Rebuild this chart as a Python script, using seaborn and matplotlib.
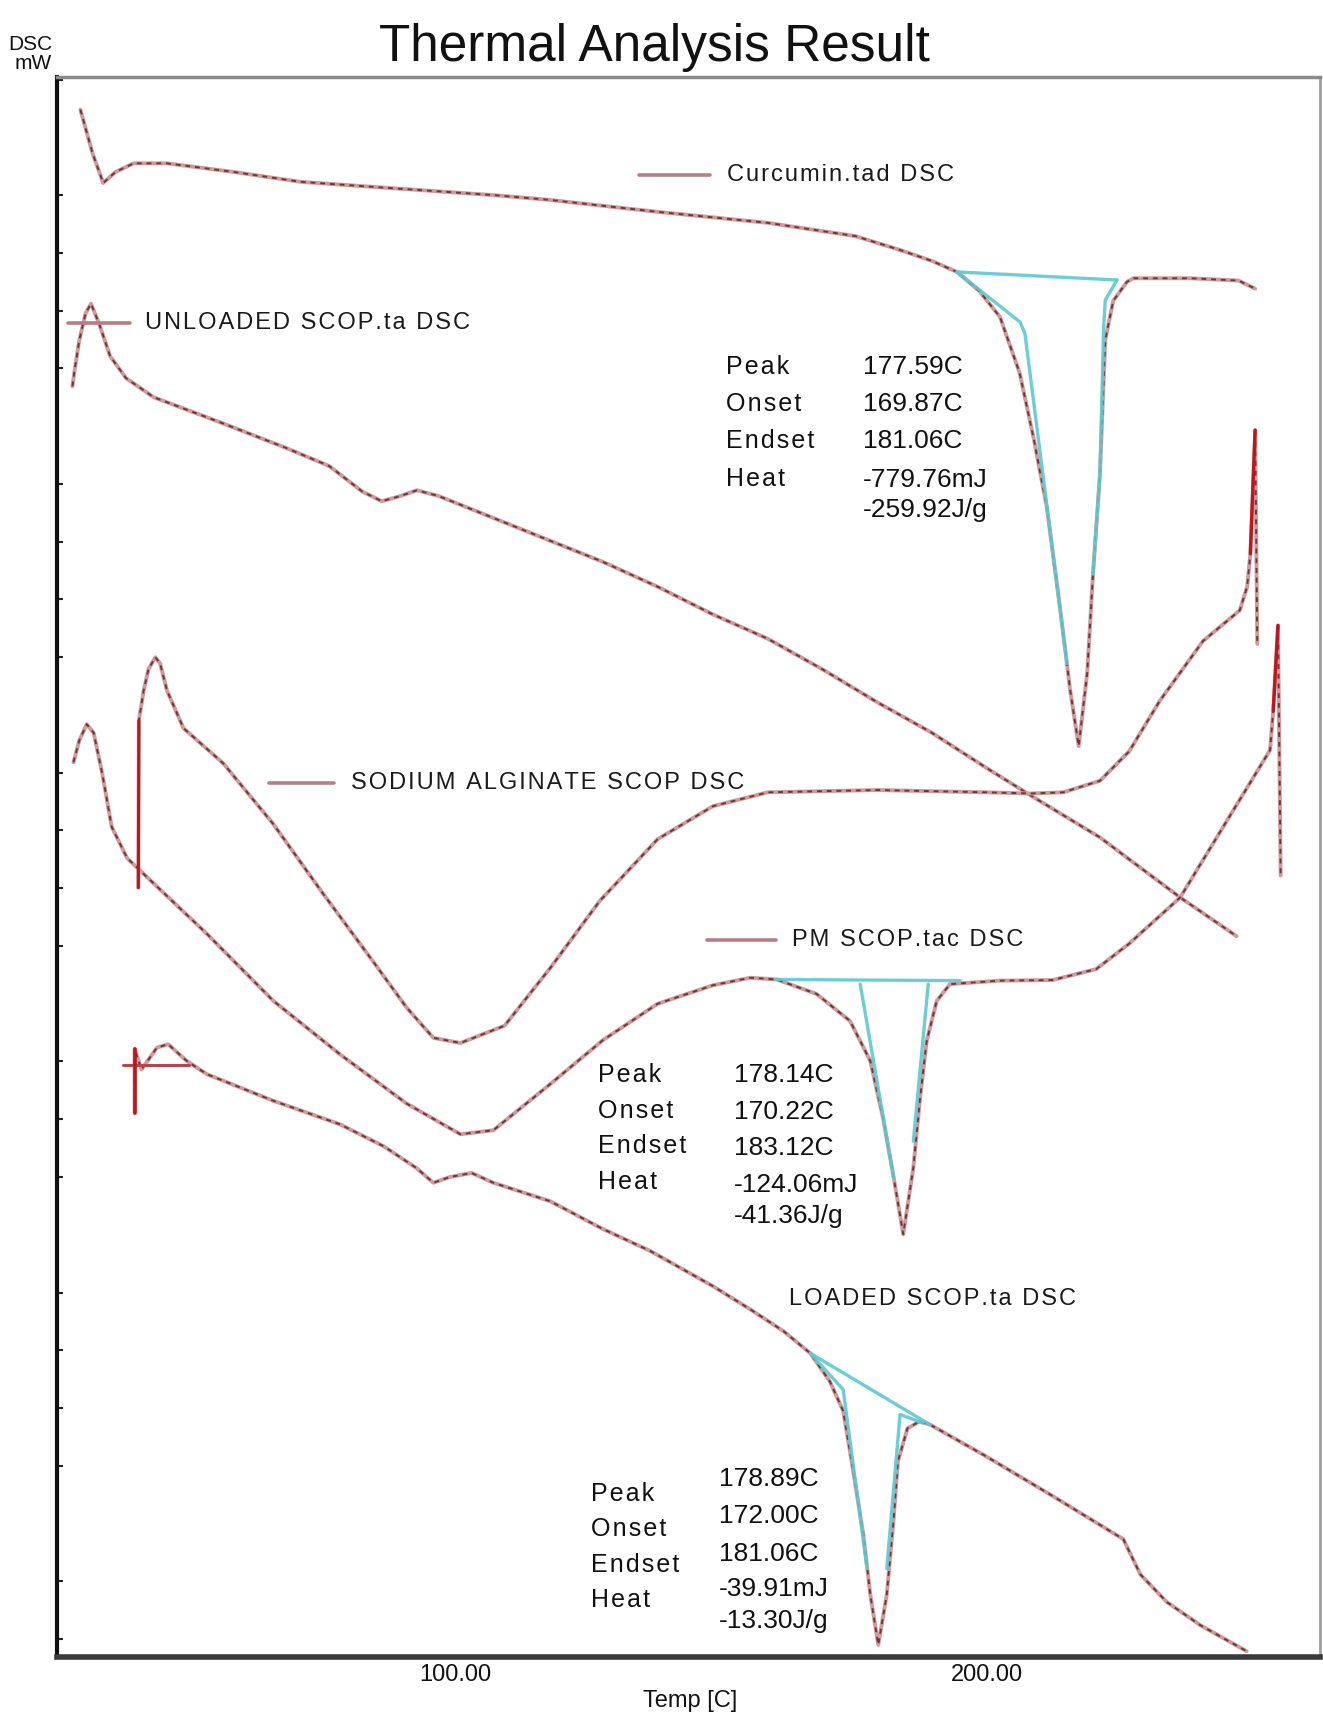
import matplotlib
matplotlib.use("Agg")
import matplotlib.pyplot as plt
import seaborn as sns

# -----------------------
# DSC curves: temperature [C] and heat flow [mW, arbitrary offset]
# -----------------------
curcumin_t = [29.5, 31.8, 33.8, 36.1, 39.5, 45.8, 58.4, 70.9, 89.7, 107.2, 117.5, 138.1, 158.8,
              175.3, 183.7, 189.7, 194.4, 198.6, 202.5, 206.2, 208.9, 211.3, 213.8, 215.7, 217.3,
              218.9, 220.0, 221.3, 222.3, 223.8, 226.4, 227.6, 238.4, 247.4, 250.5]
curcumin_mw = [24.48, 23.72, 23.21, 23.40, 23.55, 23.55, 23.40, 23.23, 23.11, 23.00, 22.92, 22.71, 22.52,
               22.29, 22.05, 21.86, 21.67, 21.34, 20.89, 19.92, 18.76, 17.60, 15.85, 14.43, 13.46,
               14.72, 16.44, 18.17, 20.49, 21.17, 21.50, 21.56, 21.56, 21.52, 21.38]

unloaded_t = [28.0, 28.5, 29.3, 30.5, 31.5, 33.0, 35.1, 38.1, 43.3, 55.7, 68.0, 76.3, 82.5, 86.2,
              89.7, 92.8, 96.9, 107.2, 117.5, 127.8, 138.1, 148.5, 158.8, 169.1, 179.4, 189.7,
              200.0, 208.2, 221.3, 236.4, 247.0]
unloaded_mw = [19.69, 20.02, 20.49, 20.96, 21.12, 20.78, 20.21, 19.83, 19.50, 19.07, 18.63, 18.31, 17.87, 17.70,
               17.79, 17.89, 17.79, 17.41, 17.03, 16.65, 16.22, 15.74, 15.32, 14.79, 14.22, 13.69,
               13.08, 12.61, 11.88, 10.84, 10.17]

alginate_t = [40.4, 40.5, 41.4, 42.3, 43.6, 44.5, 45.8, 48.9, 56.4, 65.8, 75.2, 84.5, 90.9, 95.9,
              101.0, 109.3, 117.9, 127.2, 138.1, 148.5, 158.8, 179.4, 200.0, 208.2, 214.4, 221.3,
              226.8, 232.6, 240.7, 247.6, 249.0, 249.6, 250.5, 250.9]
alginate_mw = [11.01, 13.90, 14.42, 14.79, 15.00, 14.89, 14.42, 13.77, 13.16, 12.11, 10.90, 9.74, 8.93, 8.41,
               8.32, 8.62, 9.62, 10.78, 11.85, 12.42, 12.66, 12.70, 12.66, 12.64, 12.66, 12.86,
               13.37, 14.25, 15.28, 15.81, 16.22, 16.79, 18.93, 15.23]

pm_t = [28.2, 29.3, 30.7, 32.0, 33.6, 35.4, 38.3, 40.8, 53.3, 65.8, 78.4, 90.9, 101.0, 107.2,
        117.9, 127.8, 138.1, 148.5, 155.5, 160.5, 168.0, 174.3, 178.1, 180.5, 182.5, 184.3,
        186.2, 187.4, 188.7, 190.6, 193.1, 202.5, 212.4, 220.6, 226.8, 236.4, 245.2, 253.3,
        253.9, 254.8, 255.3]
pm_mw = [13.18, 13.56, 13.84, 13.69, 12.99, 12.06, 11.52, 11.30, 10.21, 9.05, 8.12, 7.27, 6.74, 6.81,
         7.61, 8.37, 9.00, 9.32, 9.45, 9.42, 9.17, 8.70, 8.01, 7.02, 5.99, 5.01,
         6.16, 7.31, 8.35, 9.05, 9.34, 9.40, 9.41, 9.60, 10.04, 10.84, 12.17, 13.39,
         14.07, 15.55, 11.22]

loaded_t = [39.7, 39.7, 41.0, 43.9, 46.0, 49.5, 53.3, 65.8, 78.4, 86.6, 92.8, 95.9, 99.0, 103.1,
            107.2, 117.9, 127.8, 136.7, 148.5, 155.5, 161.8, 166.8, 170.5, 173.0, 174.8, 176.8,
            178.1, 179.6, 181.2, 182.5, 183.3, 185.1, 187.4, 189.4, 199.4, 212.0, 225.7, 228.9,
            233.9, 240.2, 248.9]
loaded_mw = [7.11, 8.22, 7.86, 8.24, 8.30, 8.01, 7.78, 7.32, 6.91, 6.53, 6.15, 5.90, 6.00, 6.07,
             5.90, 5.58, 5.10, 4.72, 4.11, 3.71, 3.33, 2.95, 2.46, 1.95, 0.96, -0.20,
             -1.23, -2.10, -1.23, 0.09, 1.08, 1.65, 1.77, 1.71, 1.19, 0.50, -0.27, -0.88,
             -1.36, -1.76, -2.21]

# integration baselines / tangents (cyan)
curcumin_base_t = [194.4, 224.5]
curcumin_base_mw = [21.67, 21.53]
curcumin_left_t = [194.4, 206.3, 207.2, 215.1]
curcumin_left_mw = [21.67, 20.80, 20.60, 14.89]
curcumin_right_t = [224.5, 222.3, 222.0, 221.3, 220.0]
curcumin_right_mw = [21.53, 21.18, 20.71, 18.18, 16.44]

pm_base_t = [160.5, 195.0]
pm_base_mw = [9.42, 9.40]
pm_left_t = [176.2, 182.5]
pm_left_mw = [9.34, 5.99]
pm_right_t = [189.0, 186.2]
pm_right_mw = [9.34, 6.62]

loaded_base_t = [166.8, 189.4]
loaded_base_mw = [2.95, 1.71]
loaded_left_t = [166.8, 173.0, 177.5]
loaded_left_mw = [2.95, 2.32, -0.78]
loaded_right_t = [181.2, 183.7, 188.0]
loaded_right_mw = [-0.78, 1.89, 1.74]

# curve names
curve_names = ["Curcumin.tad DSC", "UNLOADED SCOP.ta DSC", "SODIUM ALGINATE SCOP DSC",
               "PM SCOP.tac DSC", "LOADED SCOP.ta DSC"]

# peak analysis results
result_labels = ["Peak", "Onset", "Endset", "Heat"]
curcumin_results = ["177.59C", "169.87C", "181.06C", "-779.76mJ", "-259.92J/g"]
pm_results = ["178.14C", "170.22C", "183.12C", "-124.06mJ", "-41.36J/g"]
loaded_results = ["178.89C", "172.00C", "181.06C", "-39.91mJ", "-13.30J/g"]

# axis ticks
x_ticks = [40, 60, 80, 100, 120, 140, 160, 180, 200, 220, 240]
x_tick_labels = ["", "", "", "100.00", "", "", "", "", "200.00", "", ""]
y_major = [0, 5, 9, 14, 19, 24]
y_minor = list(range(-2, 26))

# -----------------------
# Style
# -----------------------
sns.set_theme(style="white")
plt.rcParams["font.family"] = ["Liberation Sans", "DejaVu Sans"]

line_light = "#cf9a9c"
line_dark = "#5e2428"
seg_color = "#b58084"
spike_red = "#c0151c"
cyan = "#5cc9d1"


def spaced(s):
    return "\u200a".join(s)


fig = plt.figure(figsize=(13.23, 17.19), dpi=100)
ax = fig.add_axes([0.04308, 0.03607, 0.95465, 0.91931])


def draw_curve(t, mw):
    sns.lineplot(x=t, y=mw, sort=False, estimator=None, color=line_light, lw=2.8, ax=ax)
    ax.plot(t, mw, color=line_dark, lw=1.4, linestyle=(0, (2.5, 2.5)), alpha=0.85)


for t, mw in [(curcumin_t, curcumin_mw), (unloaded_t, unloaded_mw), (alginate_t, alginate_mw),
              (pm_t, pm_mw), (loaded_t, loaded_mw)]:
    draw_curve(t, mw)

# bright red spikes
ax.plot(alginate_t[:2], alginate_mw[:2], color=spike_red, lw=2.2)
ax.plot(alginate_t[-3:-1], alginate_mw[-3:-1], color=spike_red, lw=2.4)
ax.plot(pm_t[-3:-1], pm_mw[-3:-1], color=spike_red, lw=2.4)

for t, mw in [(curcumin_base_t, curcumin_base_mw), (curcumin_left_t, curcumin_left_mw),
              (curcumin_right_t, curcumin_right_mw), (pm_base_t, pm_base_mw),
              (pm_left_t, pm_left_mw), (pm_right_t, pm_right_mw),
              (loaded_base_t, loaded_base_mw), (loaded_left_t, loaded_left_mw),
              (loaded_right_t, loaded_right_mw)]:
    ax.plot(t, mw, color=cyan, lw=2.4, alpha=0.9)

# legend-like markers next to curves
ax.plot([134.6, 148.0], [23.34, 23.34], color=seg_color, lw=2.6)
ax.plot([27.2, 38.8], [20.78, 20.78], color=seg_color, lw=2.6)
ax.plot([65.0, 77.3], [12.82, 12.82], color=seg_color, lw=2.6)
ax.plot([147.4, 160.4], [10.10, 10.10], color=seg_color, lw=2.6)
ax.plot([37.6, 49.9], [7.94, 7.94], color="#b5474c", lw=2.2)
ax.plot(loaded_t[:2], loaded_mw[:2], color=spike_red, lw=2.6)

lab_kw = dict(fontsize=17, color="#1a1a1a", va="center", ha="left")
ax.text(151.1, 23.34, spaced(curve_names[0]), **lab_kw)
ax.text(41.6, 20.78, spaced(curve_names[1]), **lab_kw)
ax.text(80.4, 12.82, spaced(curve_names[2]), **lab_kw)
ax.text(163.3, 10.10, spaced(curve_names[3]), **lab_kw)
ax.text(162.9, 3.89, spaced(curve_names[4]), **lab_kw)

# result blocks
blocks = [
    (150.9, [20.02, 19.39, 18.74, 18.08], 176.7, [20.02, 19.39, 18.74, 18.06, 17.55], curcumin_results),
    (126.8, [7.76, 7.15, 6.53, 5.92], 152.4, [7.76, 7.13, 6.51, 5.86, 5.33], pm_results),
    (125.6, [0.51, -0.10, -0.71, -1.33], 149.7, [0.77, 0.13, -0.52, -1.13, -1.68], loaded_results),
]
for lx, lys, vx, vys, vals in blocks:
    for name, y in zip(result_labels, lys):
        ax.text(lx, y, spaced(name), fontsize=18, color="#111111", va="center", ha="left")
    for val, y in zip(vals, vys):
        ax.text(vx, y, val, fontsize=19, color="#111111", va="center", ha="left")

# -----------------------
# Axes
# -----------------------
ax.set_xlim(25.1, 262.7)
ax.set_ylim(-2.31, 25.05)
ax.set_xticks(x_ticks)
ax.set_xticklabels(x_tick_labels, fontsize=17, color="#111111")
ax.set_yticks(y_major)
ax.set_yticks(y_minor, minor=True)
ax.set_yticklabels([])
ax.tick_params(axis="x", direction="in", length=6, width=1.5, color="#222222", pad=5)
ax.tick_params(axis="y", which="major", direction="in", length=9, width=2, color="#222222")
ax.tick_params(axis="y", which="minor", direction="in", length=4, width=1.5, color="#222222", left=True)
ax.set_xlabel("")
ax.set_ylabel("")

ax.spines["left"].set_color("#111111")
ax.spines["left"].set_linewidth(3)
ax.spines["bottom"].set_color("#3a3a3a")
ax.spines["bottom"].set_linewidth(4)
ax.spines["top"].set_color("#8a8a8a")
ax.spines["top"].set_linewidth(2.5)
ax.spines["right"].set_color("#a0a0a0")
ax.spines["right"].set_linewidth(2)

fig.text(0.495, 0.9645, "Thermal Analysis Result", fontsize=37, color="#111111",
         ha="center", va="baseline")
fig.text(0.0393, 0.9686, "DSC\nmW", fontsize=15, color="#111111", ha="right", va="center",
         multialignment="right", linespacing=0.95)
fig.text(0.5215, 0.007, "Temp [C]", fontsize=17, color="#111111", ha="center", va="baseline")

fig.savefig("out.png", dpi=100)
